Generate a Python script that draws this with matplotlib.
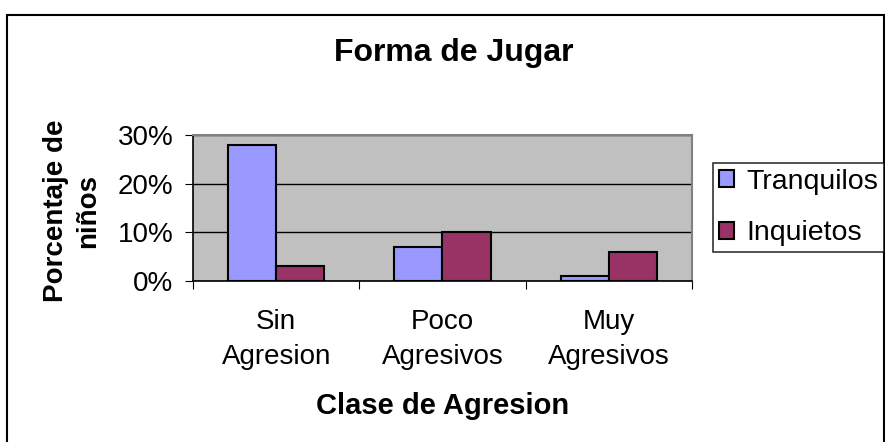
import numpy as np
import matplotlib
matplotlib.use("Agg")
import matplotlib.pyplot as plt
from matplotlib.patches import Rectangle

plt.rcParams["font.family"] = ["Liberation Sans", "DejaVu Sans"]

categories = ["Sin\nAgresion", "Poco\nAgresivos", "Muy\nAgresivos"]
tranquilos = [0.28, 0.07, 0.01]
inquietos = [0.03, 0.10, 0.06]
yticks = [0.0, 0.1, 0.2, 0.3]
ytick_labels = ["0%", "10%", "20%", "30%"]

W, H = 885, 442
fig = plt.figure(figsize=(W / 100, H / 100), dpi=100)

# outer chart border
fig.patches.append(Rectangle((7 / W, -0.05), 877 / W, 1 - 15 / H + 0.05,
                             transform=fig.transFigure, fill=False,
                             edgecolor="black", linewidth=1.5))

ax = fig.add_axes([193 / W, 1 - 281 / H, (692 - 193) / W, (281 - 135) / H])
ax.set_facecolor("#C0C0C0")

x = np.arange(len(categories))
w = 0.29
ax.bar(x - w / 2, tranquilos, w, color="#9999FF", edgecolor="black",
       linewidth=1.5, label="Tranquilos", zorder=3)
ax.bar(x + w / 2, inquietos, w, color="#993366", edgecolor="black",
       linewidth=1.5, label="Inquietos", zorder=3)

ax.set_xlim(-0.5, 2.5)
ax.set_ylim(0, 0.30)
ax.set_yticks(yticks)
ax.set_yticklabels(ytick_labels, fontsize=20)
ax.yaxis.grid(True, color="black", linewidth=1)
ax.set_axisbelow(True)

ax.set_xticks([-0.5, 0.5, 1.5, 2.5])
ax.set_xticklabels([])
ax.set_xticks(x, minor=True)
ax.set_xticklabels(categories, minor=True, fontsize=20, linespacing=1.45)
ax.tick_params(axis="x", which="minor", length=0, pad=20)
ax.tick_params(axis="x", which="major", length=6, direction="out")
ax.tick_params(axis="y", length=6, direction="out", pad=8)

for s in ["top", "right"]:
    ax.spines[s].set_color("#808080")
    ax.spines[s].set_linewidth(1.5)
for s in ["left", "bottom"]:
    ax.spines[s].set_color("black")
    ax.spines[s].set_linewidth(1.2)

fig.text(454 / W, 1 - 53 / H, "Forma de Jugar", fontsize=23,
         fontweight="bold", ha="center", va="center")
fig.text(443 / W, 1 - 406 / H, "Clase de Agresion", fontsize=21,
         fontweight="bold", ha="center", va="center")
fig.text(72 / W, 1 - 211 / H, "Porcentaje de\nniños", fontsize=20,
         fontweight="bold", ha="center", va="center", rotation=90,
         linespacing=1.3)

leg = fig.legend(loc="upper left", bbox_to_anchor=(713 / W, 1 - 163 / H),
                 fontsize=20.5, frameon=True, fancybox=False, edgecolor="black",
                 handlelength=0.55, handleheight=0.55, handletextpad=0.42,
                 borderaxespad=0, borderpad=0.2, labelspacing=0.9)
leg.get_frame().set_linewidth(1.2)

fig.savefig("out.png", dpi=100)
